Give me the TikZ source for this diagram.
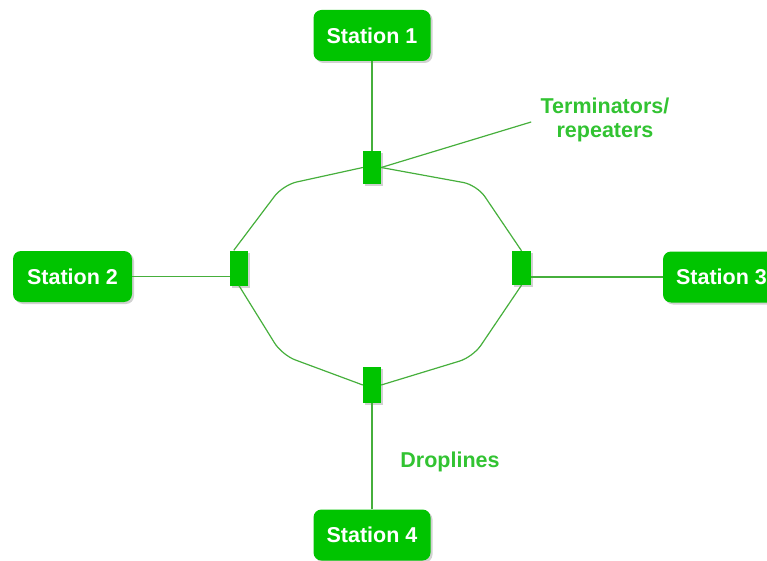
\documentclass[tikz,border=0pt]{standalone}
\usepackage{fontspec}
\setmainfont{Liberation Sans}
\usetikzlibrary{shadows}
\definecolor{boxgreen}{RGB}{0,196,0}
\definecolor{wiregreen}{RGB}{70,175,60}
\definecolor{labelgreen}{RGB}{50,195,50}
\tikzset{
  station/.style={draw=none, fill=boxgreen, rounded corners=8pt,
    minimum width=117pt, minimum height=51pt, inner sep=0pt,
    text=white, font=\fontsize{21.5}{25}\selectfont\bfseries,
    drop shadow={shadow xshift=2pt, shadow yshift=-2pt, fill=black!30, opacity=0.6}},
  repeater/.style={draw=none, fill=boxgreen, minimum width=18pt,
    minimum height=34pt, inner sep=0pt,
    drop shadow={shadow xshift=2pt, shadow yshift=-2pt, fill=black!30, opacity=0.6}},
  wire/.style={draw=wiregreen, line width=1.2pt},
  ringwire/.style={wire, rounded corners=14pt},
  caption/.style={text=labelgreen, font=\fontsize{21.5}{24.5}\selectfont\bfseries, align=center}
}
\begin{document}
\begin{tikzpicture}[x=1pt, y=-1pt]
\useasboundingbox (0,0) rectangle (767,561);
\clip (0,0) rectangle (767,561);

% bends of the ring
\coordinate (c1) at (283,185);
\coordinate (c2) at (477,185);
\coordinate (c3) at (282,355);
\coordinate (c4) at (473,357);

% stations
\node[station] (st1) at (372,35.5) {Station 1};
\node[station, minimum width=119pt] (st2) at (72.5,276.5) {Station 2};
\node[station] (st3) at (721.5,277) {Station 3};
\node[station] (st4) at (372,535) {Station 4};

% repeaters on the ring
\node[repeater, minimum height=33pt] (t1) at (372,167.5) {};
\node[repeater, minimum height=35pt] (t2) at (239,268) {};
\node[repeater, minimum width=19pt] (t3) at (521.5,268) {};
\node[repeater, minimum height=36pt] (t4) at (372,385) {};

% ring segments between the repeaters
\draw[ringwire] (t1.west) -- (c1) -- ([xshift=4pt]t2.north west);
\draw[ringwire] (t2.south) -- (c3) -- (t4.west);
\draw[ringwire] (t4.east) -- (c4) -- (t3.south);
\draw[ringwire] (t3.north) -- (c2) -- (t1.east);

% droplines
\draw[wire] (st1.south) -- (t1.north);
\draw[wire] (st2.east) -- (st2.east -| t2.west);
\draw[wire] (st3.west) -- (st3.west -| t3.east);
\draw[wire] (st4.north) -- (t4.south);

% labels
\node[caption] (lbl) at (605,120) {Terminators/\\repeaters};
\draw[wire] (t1.east) -- ([xshift=-6pt,yshift=-2pt]lbl.west);
\node[caption] (drop) at (450,462) {Droplines};
\end{tikzpicture}
\end{document}
